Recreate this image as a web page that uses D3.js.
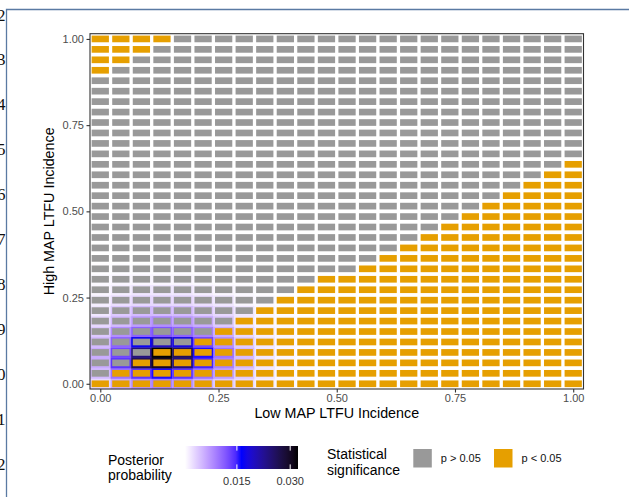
<!DOCTYPE html>
<html>
<head>
<meta charset="utf-8">
<script src="https://cdn.jsdelivr.net/npm/d3@7"></script>
<style>
  body { margin: 0; background: #fff; }
  svg text { font-family: "Liberation Sans", Arial, sans-serif; }
</style>
</head>
<body>
<div id="chart"></div>
<script>
// grid: 24 columns (low incidence) x 34 rows (high incidence)
var nCols = 24, nRows = 34;

// first column (per row, bottom to top) where p < 0.05 in the lower-right region
var orangeFrom = [0, 1, 2, 3, 5, 6, 7, 8, 9, 10, 11, 13, 14, 15, 16, 17, 18, 19, 20, 21, 22, 23,
                  24, 24, 24, 24, 24, 24, 24, 24, 24, 24, 24, 24];
// number of p < 0.05 cells at the left of each row (top-left corner)
var orangeLeft = [0, 0, 0, 0, 0, 0, 0, 0, 0, 0, 0, 0, 0, 0, 0, 0, 0, 0, 0, 0, 0, 0,
                  0, 0, 0, 0, 0, 0, 0, 0, 1, 2, 3, 4];

// posterior probability, rows from bottom (row 0) up, columns from left
var posterior = [
  [0.0030, 0.0060, 0.0080, 0.0090, 0.0080, 0.0060, 0.0040, 0.0030, 0.0015, 0.0010, 0.0006],
  [0.0050, 0.0100, 0.0140, 0.0160, 0.0140, 0.0100, 0.0070, 0.0040, 0.0020, 0.0010, 0.0006],
  [0.0060, 0.0140, 0.0260, 0.0300, 0.0240, 0.0150, 0.0090, 0.0050, 0.0020, 0.0010, 0.0006],
  [0.0060, 0.0130, 0.0240, 0.0320, 0.0260, 0.0160, 0.0100, 0.0050, 0.0020, 0.0010, 0.0006],
  [0.0050, 0.0110, 0.0170, 0.0200, 0.0180, 0.0130, 0.0080, 0.0040, 0.0020, 0.0010, 0.0006],
  [0.0040, 0.0080, 0.0110, 0.0120, 0.0110, 0.0090, 0.0060, 0.0030, 0.0015, 0.0010, 0.0005],
  [0.0030, 0.0050, 0.0070, 0.0080, 0.0070, 0.0060, 0.0040, 0.0020, 0.0010, 0.0008, 0.0005],
  [0.0020, 0.0040, 0.0050, 0.0050, 0.0050, 0.0040, 0.0030, 0.0020, 0.0010, 0.0006, 0.0004],
  [0.0015, 0.0025, 0.0030, 0.0030, 0.0030, 0.0025, 0.0020, 0.0010, 0.0008, 0.0005, 0.0004],
  [0.0010, 0.0015, 0.0020, 0.0020, 0.0020, 0.0015, 0.0010, 0.0008, 0.0005, 0.0004, 0.0004],
  [0.0008, 0.0010, 0.0010, 0.0010, 0.0010, 0.0008, 0.0006, 0.0005, 0.0004, 0.0004, 0.0004],
  [0.0005, 0.0006, 0.0006, 0.0006, 0.0006, 0.0005, 0.0004, 0.0004, 0.0004, 0.0004, 0.0004]
];

var axisTicks = [0, 0.25, 0.5, 0.75, 1];
var legendTicks = [0.015, 0.030];
var sigLabels = ["p > 0.05", "p < 0.05"];
var sigColors = ["#999999", "#E69F00"];
var sideNumbers = ["12", "13", "14", "15", "16", "17", "18", "19", "20", "21", "22"];

var W = 629, H = 497;
var svg = d3.select("#chart").append("svg")
    .attr("width", W)
    .attr("height", H);

// page frame and cut-off line numbers at the left edge
svg.append("g").selectAll("text")
    .data(sideNumbers)
    .enter()
    .append("text")
        .attr("x", 5.5)
        .attr("y", function (d, i) { return 20.5 + i * 44.9; })
        .attr("text-anchor", "end")
        .style("font-family", "'Liberation Serif', 'DejaVu Serif', serif")
        .style("font-size", "17px")
        .style("fill", "#111")
        .text(function (d) { return d; });

svg.append("path")
    .attr("d", "M6.5,497 V9.5 H629")
    .attr("fill", "none")
    .attr("stroke", "#5a7aa3")
    .attr("stroke-width", 1.3);

// scales
var xStep = 1 / (nCols - 1), yStep = 1 / (nRows - 1);
var panel = {left: 90, right: 583.5, top: 33.7, bottom: 389};

var x = d3.scaleLinear()
    .domain([-xStep / 2, 1 + xStep / 2])
    .range([panel.left, panel.right]);
var y = d3.scaleLinear()
    .domain([-yStep / 2, 1 + yStep / 2])
    .range([panel.bottom, panel.top]);

var pMin = 0.0004, pMax = 0.0322;
var color = d3.scaleLinear()
    .domain([pMin, (pMin + pMax) / 2, pMax])
    .range(["#ffffff", "#0000ff", "#000000"])
    .interpolate(d3.interpolateLab)
    .clamp(true);

var cellW = x(xStep) - x(0), cellH = y(0) - y(yStep);

// posterior layer (full cells)
var postCells = [];
posterior.forEach(function (row, j) {
    row.forEach(function (v, i) { postCells.push({i: i, j: j, v: v}); });
});

svg.append("g")
    .selectAll("rect")
    .data(postCells)
    .enter()
    .append("rect")
        .attr("x", function (d) { return x(d.i * xStep) - cellW / 2; })
        .attr("y", function (d) { return y(d.j * yStep) - cellH / 2; })
        .attr("width", cellW + 0.3)
        .attr("height", cellH + 0.3)
        .style("fill", function (d) { return color(d.v); });

// significance tiles
var sigCells = [];
for (var j = 0; j < nRows; j++) {
    for (var i = 0; i < nCols; i++) {
        var sig = (i >= orangeFrom[j] || i < orangeLeft[j]) ? 1 : 0;
        sigCells.push({i: i, j: j, sig: sig});
    }
}

var tileW = cellW * 0.84, tileH = cellH * 0.64;
svg.append("g")
    .selectAll("rect")
    .data(sigCells)
    .enter()
    .append("rect")
        .attr("x", function (d) { return x(d.i * xStep) - tileW / 2; })
        .attr("y", function (d) { return y(d.j * yStep) - tileH / 2; })
        .attr("width", tileW)
        .attr("height", tileH)
        .style("fill", function (d) { return sigColors[d.sig]; });

// panel border
svg.append("rect")
    .attr("x", panel.left)
    .attr("y", panel.top)
    .attr("width", panel.right - panel.left)
    .attr("height", panel.bottom - panel.top)
    .attr("fill", "none")
    .attr("stroke", "#333333")
    .attr("stroke-width", 1.1);

// axes
var xAxis = svg.append("g")
    .attr("transform", "translate(0," + panel.bottom + ")")
    .call(d3.axisBottom(x).tickValues(axisTicks).tickFormat(d3.format(".2f")).tickSize(3.5).tickPadding(2));
var yAxis = svg.append("g")
    .attr("transform", "translate(" + panel.left + ",0)")
    .call(d3.axisLeft(y).tickValues(axisTicks).tickFormat(d3.format(".2f")).tickSize(3.5).tickPadding(2.5));

[xAxis, yAxis].forEach(function (g) {
    g.select(".domain").remove();
    g.selectAll(".tick line").attr("stroke", "#333333").attr("stroke-width", 1.1);
    g.selectAll(".tick text")
        .style("font-family", "'Liberation Sans', Arial, sans-serif")
        .style("font-size", "11px")
        .attr("fill", "#4d4d4d");
});

svg.append("text")
    .attr("x", (panel.left + panel.right) / 2)
    .attr("y", 418)
    .attr("text-anchor", "middle")
    .style("font-size", "14.3px")
    .text("Low MAP LTFU Incidence");

svg.append("text")
    .attr("transform", "translate(54," + (panel.top + panel.bottom) / 2 + ") rotate(-90)")
    .attr("text-anchor", "middle")
    .style("font-size", "14.3px")
    .text("High MAP LTFU Incidence");

// legend: posterior probability colorbar
var legend = svg.append("g");
legend.append("text").attr("x", 108).attr("y", 465).style("font-size", "14px").text("Posterior");
legend.append("text").attr("x", 108).attr("y", 480).style("font-size", "14px").text("probability");

var lx = d3.scaleLinear().domain([pMin, pMax]).range([185, 298]);
var grad = svg.append("defs").append("linearGradient")
    .attr("id", "postGrad")
    .attr("x1", "0%").attr("x2", "100%").attr("y1", "0%").attr("y2", "0%");
d3.range(0, 21).forEach(function (k) {
    var v = pMin + (pMax - pMin) * k / 20;
    grad.append("stop")
        .attr("offset", (k * 5) + "%")
        .attr("stop-color", color(v));
});
var barTop = 446, barH = 23;
legend.append("rect")
    .attr("x", lx(pMin)).attr("y", barTop)
    .attr("width", lx(pMax) - lx(pMin)).attr("height", barH)
    .style("fill", "url(#postGrad)");
legend.selectAll(".ctick")
    .data(legendTicks)
    .enter()
    .append("path")
        .attr("d", function (d) {
            var px = lx(d);
            return "M" + px + "," + barTop + "v4.6M" + px + "," + (barTop + barH) + "v-4.6";
        })
        .attr("stroke", "#fff")
        .attr("stroke-width", 1);
legend.selectAll(".clab")
    .data(legendTicks)
    .enter()
    .append("text")
        .attr("x", function (d) { return lx(d); })
        .attr("y", 485)
        .attr("text-anchor", "middle")
        .style("font-size", "11px")
        .attr("fill", "#333")
        .text(function (d) { return d3.format(".3f")(d); });

// legend: statistical significance
legend.append("text").attr("x", 327).attr("y", 459).style("font-size", "14px").text("Statistical");
legend.append("text").attr("x", 327).attr("y", 474.5).style("font-size", "14px").text("significance");

var keyX = [413.3, 494];
legend.selectAll(".key")
    .data(sigLabels)
    .enter()
    .append("rect")
        .attr("x", function (d, i) { return keyX[i]; })
        .attr("y", 449)
        .attr("width", 18.5)
        .attr("height", 18.5)
        .style("fill", function (d, i) { return sigColors[i]; });
legend.selectAll(".klab")
    .data(sigLabels)
    .enter()
    .append("text")
        .attr("x", function (d, i) { return keyX[i] + 27.5; })
        .attr("y", 462)
        .style("font-size", "11px")
        .attr("fill", "#111")
        .text(function (d) { return d; });
</script>
</body>
</html>
